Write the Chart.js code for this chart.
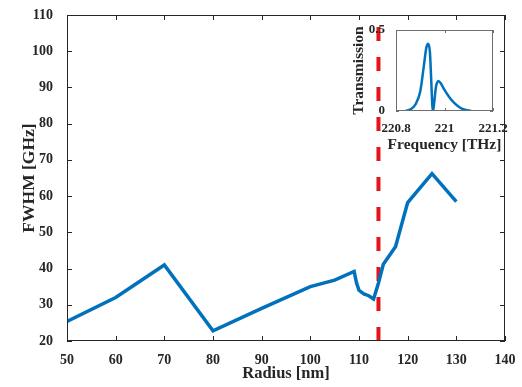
<!DOCTYPE html>
<html>
<head>
<meta charset="utf-8">
<script src="https://cdn.jsdelivr.net/npm/chart.js@4.4.1/dist/chart.umd.min.js"></script>
<style>
  html, body { margin: 0; padding: 0; background: #fff; }
  #wrap { position: relative; width: 522px; height: 387px; }
  #main { position: absolute; left: 0; top: 0; }
  #inset { position: absolute; left: 340px; top: 0; pointer-events: none; }
</style>
</head>
<body>
<div id="wrap">
  <canvas id="main" width="522" height="387"></canvas>
  <canvas id="inset" width="180" height="160"></canvas>
</div>
<script>
// Data

var radius = [50, 60, 70, 80, 90, 100, 105, 109, 109.5, 110, 111, 112, 113, 114, 115, 117.5, 120, 125, 130]
var fwhm = [25.4, 32, 41, 22.8, 29, 35, 36.8, 39.2, 36, 34, 33, 32.5, 31.6, 36, 41.2, 46, 58.2, 66.2, 58.5]

var cutoffRadius = 114
var cutoffRange = [20, 110]

var freq = [220.84, 220.86, 220.88, 220.9, 220.915, 220.925, 220.933, 220.94, 220.945, 220.95, 220.953,
            220.958, 220.965, 220.975, 220.985, 221.0, 221.02, 221.04, 221.06, 221.08, 221.11]
var transmission = [0, 0.01, 0.04, 0.12, 0.28, 0.39, 0.415, 0.36, 0.2, 0.03, 0,
                    0.06, 0.15, 0.185, 0.17, 0.13, 0.085, 0.05, 0.025, 0.01, 0]

var xTicks = [50, 140, 10]
var yTicks = [20, 110, 10]

var serif = '"Liberation Serif", "Times New Roman", serif'
var textColor = '#262626'
var blue = '#0072BD'

// Box and inward ticks (matlab style)

function boxTicks(color, len) {
    return {
        id: 'boxTicks',
        afterDraw: chart => {
            var c = chart.ctx, a = chart.chartArea
            var x = chart.scales.x, y = chart.scales.y
            c.save()
            c.strokeStyle = color
            c.lineWidth = 1
            c.strokeRect(a.left + 0.5, a.top + 0.5, a.right - a.left - 1, a.bottom - a.top - 1)
            c.beginPath()
            x.ticks.forEach(t => {
                var px = Math.round(x.getPixelForValue(t.value)) + 0.5
                c.moveTo(px, a.bottom); c.lineTo(px, a.bottom - len)
                c.moveTo(px, a.top); c.lineTo(px, a.top + len)
            })
            y.ticks.forEach(t => {
                var py = Math.round(y.getPixelForValue(t.value)) + 0.5
                c.moveTo(a.left, py); c.lineTo(a.left + len, py)
                c.moveTo(a.right, py); c.lineTo(a.right - len, py)
            })
            c.stroke()
            c.restore()
        }
    }
}

// Inset axis titles, drawn by hand so they are not squeezed to the small plot width

var insetTitles = {
    id: 'insetTitles',
    afterDraw: chart => {
        var c = chart.ctx, a = chart.chartArea
        c.save()
        c.fillStyle = textColor
        c.textAlign = 'center'
        c.textBaseline = 'middle'
        c.font = 'bold 15.5px ' + serif
        c.fillText('Frequency [THz]', (a.left + a.right) / 2, 145)
        c.translate(19, (a.top + a.bottom) / 2)
        c.rotate(-Math.PI / 2)
        c.fillText('Transmission', 0, 0)
        c.restore()
    }
}

// Main chart

var mainCtx = document.getElementById('main').getContext('2d')

var mainChart = new Chart(mainCtx, {
    type: 'line',
    data: {
        datasets: [{
            data: radius.map((r, i) => ({ x: r, y: fwhm[i] })),
            borderColor: blue,
            borderWidth: 3.5,
            pointRadius: 0,
            tension: 0,
            order: 1,
        }, {
            data: cutoffRange.map(v => ({ x: cutoffRadius, y: v })),
            borderColor: '#e3151a',
            borderWidth: 4,
            borderDash: [14, 16],
            pointRadius: 0,
            order: 2,
        }]
    },
    options: {
        responsive: false,
        animation: false,
        layout: { padding: { top: 15, right: 17, left: 0, bottom: 0 } },
        plugins: { legend: { display: false }, tooltip: { enabled: false } },
        scales: {
            x: {
                type: 'linear',
                min: xTicks[0], max: xTicks[1],
                ticks: { stepSize: xTicks[2], color: textColor, padding: 3, font: { family: serif, size: 14, weight: 'bold' } },
                grid: { display: false },
                border: { display: false },
                title: { display: true, text: 'Radius [nm]', color: textColor, padding: { top: 0, bottom: 3 }, font: { family: serif, size: 16.5, weight: 'bold' } },
                afterFit: s => { s.height = 46 },
            },
            y: {
                type: 'linear',
                min: yTicks[0], max: yTicks[1],
                ticks: { stepSize: yTicks[2], color: textColor, padding: 6, font: { family: serif, size: 14, weight: 'bold' } },
                grid: { display: false },
                border: { display: false },
                title: { display: true, text: 'FWHM [GHz]', color: textColor, padding: { top: 19, bottom: 0 }, font: { family: serif, size: 17.5, weight: 'bold' } },
                afterFit: s => { s.width = 67 },
            }
        }
    },
    plugins: [boxTicks('#262626', 5)]
})

// Inset chart

var insetCtx = document.getElementById('inset').getContext('2d')

var insetChart = new Chart(insetCtx, {
    type: 'line',
    data: {
        datasets: [{
            data: freq.map((f, i) => ({ x: f, y: transmission[i] })),
            borderColor: blue,
            borderWidth: 2.5,
            pointRadius: 0,
            cubicInterpolationMode: 'monotone',
        }]
    },
    options: {
        responsive: false,
        animation: false,
        layout: { padding: { top: 30, right: 27, left: 0, bottom: 0 } },
        plugins: { legend: { display: false }, tooltip: { enabled: false } },
        scales: {
            x: {
                type: 'linear',
                min: 220.8, max: 221.2,
                ticks: { stepSize: 0.2, color: textColor, padding: 2, maxRotation: 0, font: { family: serif, size: 13, weight: 'bold' },
                         callback: v => +v.toFixed(1) },
                grid: { display: false },
                border: { display: false },
                afterFit: s => { s.height = 49 },
            },
            y: {
                type: 'linear',
                min: 0, max: 0.5,
                ticks: { stepSize: 0.5, color: textColor, padding: 3, font: { family: serif, size: 13, weight: 'bold' } },
                grid: { display: false },
                border: { display: false },
                afterFit: s => { s.width = 56 },
            }
        }
    },
    plugins: [boxTicks('#6e6e6e', 3), insetTitles]
})
</script>
</body>
</html>
